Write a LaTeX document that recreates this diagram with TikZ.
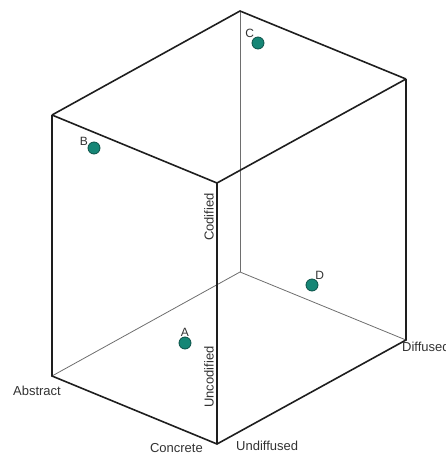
\documentclass[tikz,border=0pt]{standalone}
\usepackage{fontspec}
\setmainfont{Liberation Sans}
\usepackage{xcolor}
\definecolor{cubeInk}{RGB}{30, 30, 30}
\definecolor{hiddenInk}{RGB}{110, 110, 110}
\definecolor{dotFill}{RGB}{22, 134, 118}
\definecolor{dotEdge}{RGB}{12, 82, 72}
\definecolor{textInk}{RGB}{50, 50, 50}
\usepackage{tikz}
\usetikzlibrary{
    arrows.meta,
    positioning,
    calc
}

\begin{document}
\begin{tikzpicture}[
    x=1pt, y=-1pt,
    outerEdge/.style={
        draw=cubeInk, line width=1.6pt, line join=miter
    },
    hiddenEdge/.style={
        draw=hiddenInk, line width=0.8pt
    },
    axisLabel/.style={
        font=\fontsize{13}{15}\selectfont, text=textInk, inner sep=0pt
    },
    spaceDot/.style={
        circle, fill=dotFill, draw=dotEdge, line width=0.8pt,
        minimum size=12pt, inner sep=0pt,
        label distance=2pt
    },
    every label/.style={
        font=\fontsize{12}{14}\selectfont, text=textInk, inner sep=0pt
    }
]
    \useasboundingbox (0, 0) rectangle (446, 456);

    % Cube corners
    \coordinate (topBack) at (240, 11);
    \coordinate (topLeft) at (52, 115);
    \coordinate (topFront) at (217, 183);
    \coordinate (topRight) at (406, 79);
    \coordinate (botBack) at (240, 272);
    \coordinate (botLeft) at (52, 376);
    \coordinate (botFront) at (217, 444);
    \coordinate (botRight) at (406, 340);

    % Hidden edges
    \draw[hiddenEdge] (botBack) -- (topBack);
    \draw[hiddenEdge] (botBack) -- (botLeft);
    \draw[hiddenEdge] (botBack) -- (botRight);

    % Visible edges
    \draw[outerEdge] (topLeft) -- (topBack) -- (topRight);
    \draw[outerEdge] (topLeft) -- (topFront) -- (topRight);
    \draw[outerEdge] (topLeft) -- (botLeft) -- (botFront) -- (botRight) -- (topRight);
    \draw[outerEdge] (topFront) -- (botFront);

    % Axis labels
    \node[axisLabel] (lAbstract) at ($(botLeft)+(-15, 15)$) {Abstract};
    \node[axisLabel, anchor=east] (lConcrete) at ($(botFront)+(-14, 4)$) {Concrete};
    \node[axisLabel, anchor=west] (lUndiffused) at ($(botFront)+(19, 2)$) {Undiffused};
    \node[axisLabel, anchor=west] (lDiffused) at ($(botRight)+(-4, 7)$) {Diffused};
    \node[axisLabel, rotate=90, anchor=south] (lCodified) at (214, 217) {Codified};
    \node[axisLabel, rotate=90, anchor=south] (lUncodified) at (214, 377) {Uncodified};

    % Positions in the space
    \node[spaceDot, label=90:A] (dotA) at (185, 343) {};
    \node[spaceDot, label=160:B] (dotB) at (94, 148) {};
    \node[spaceDot, label=125:C] (dotC) at (258, 43) {};
    \node[spaceDot, label=60:D] (dotD) at (312, 285) {};

\end{tikzpicture}
\end{document}
